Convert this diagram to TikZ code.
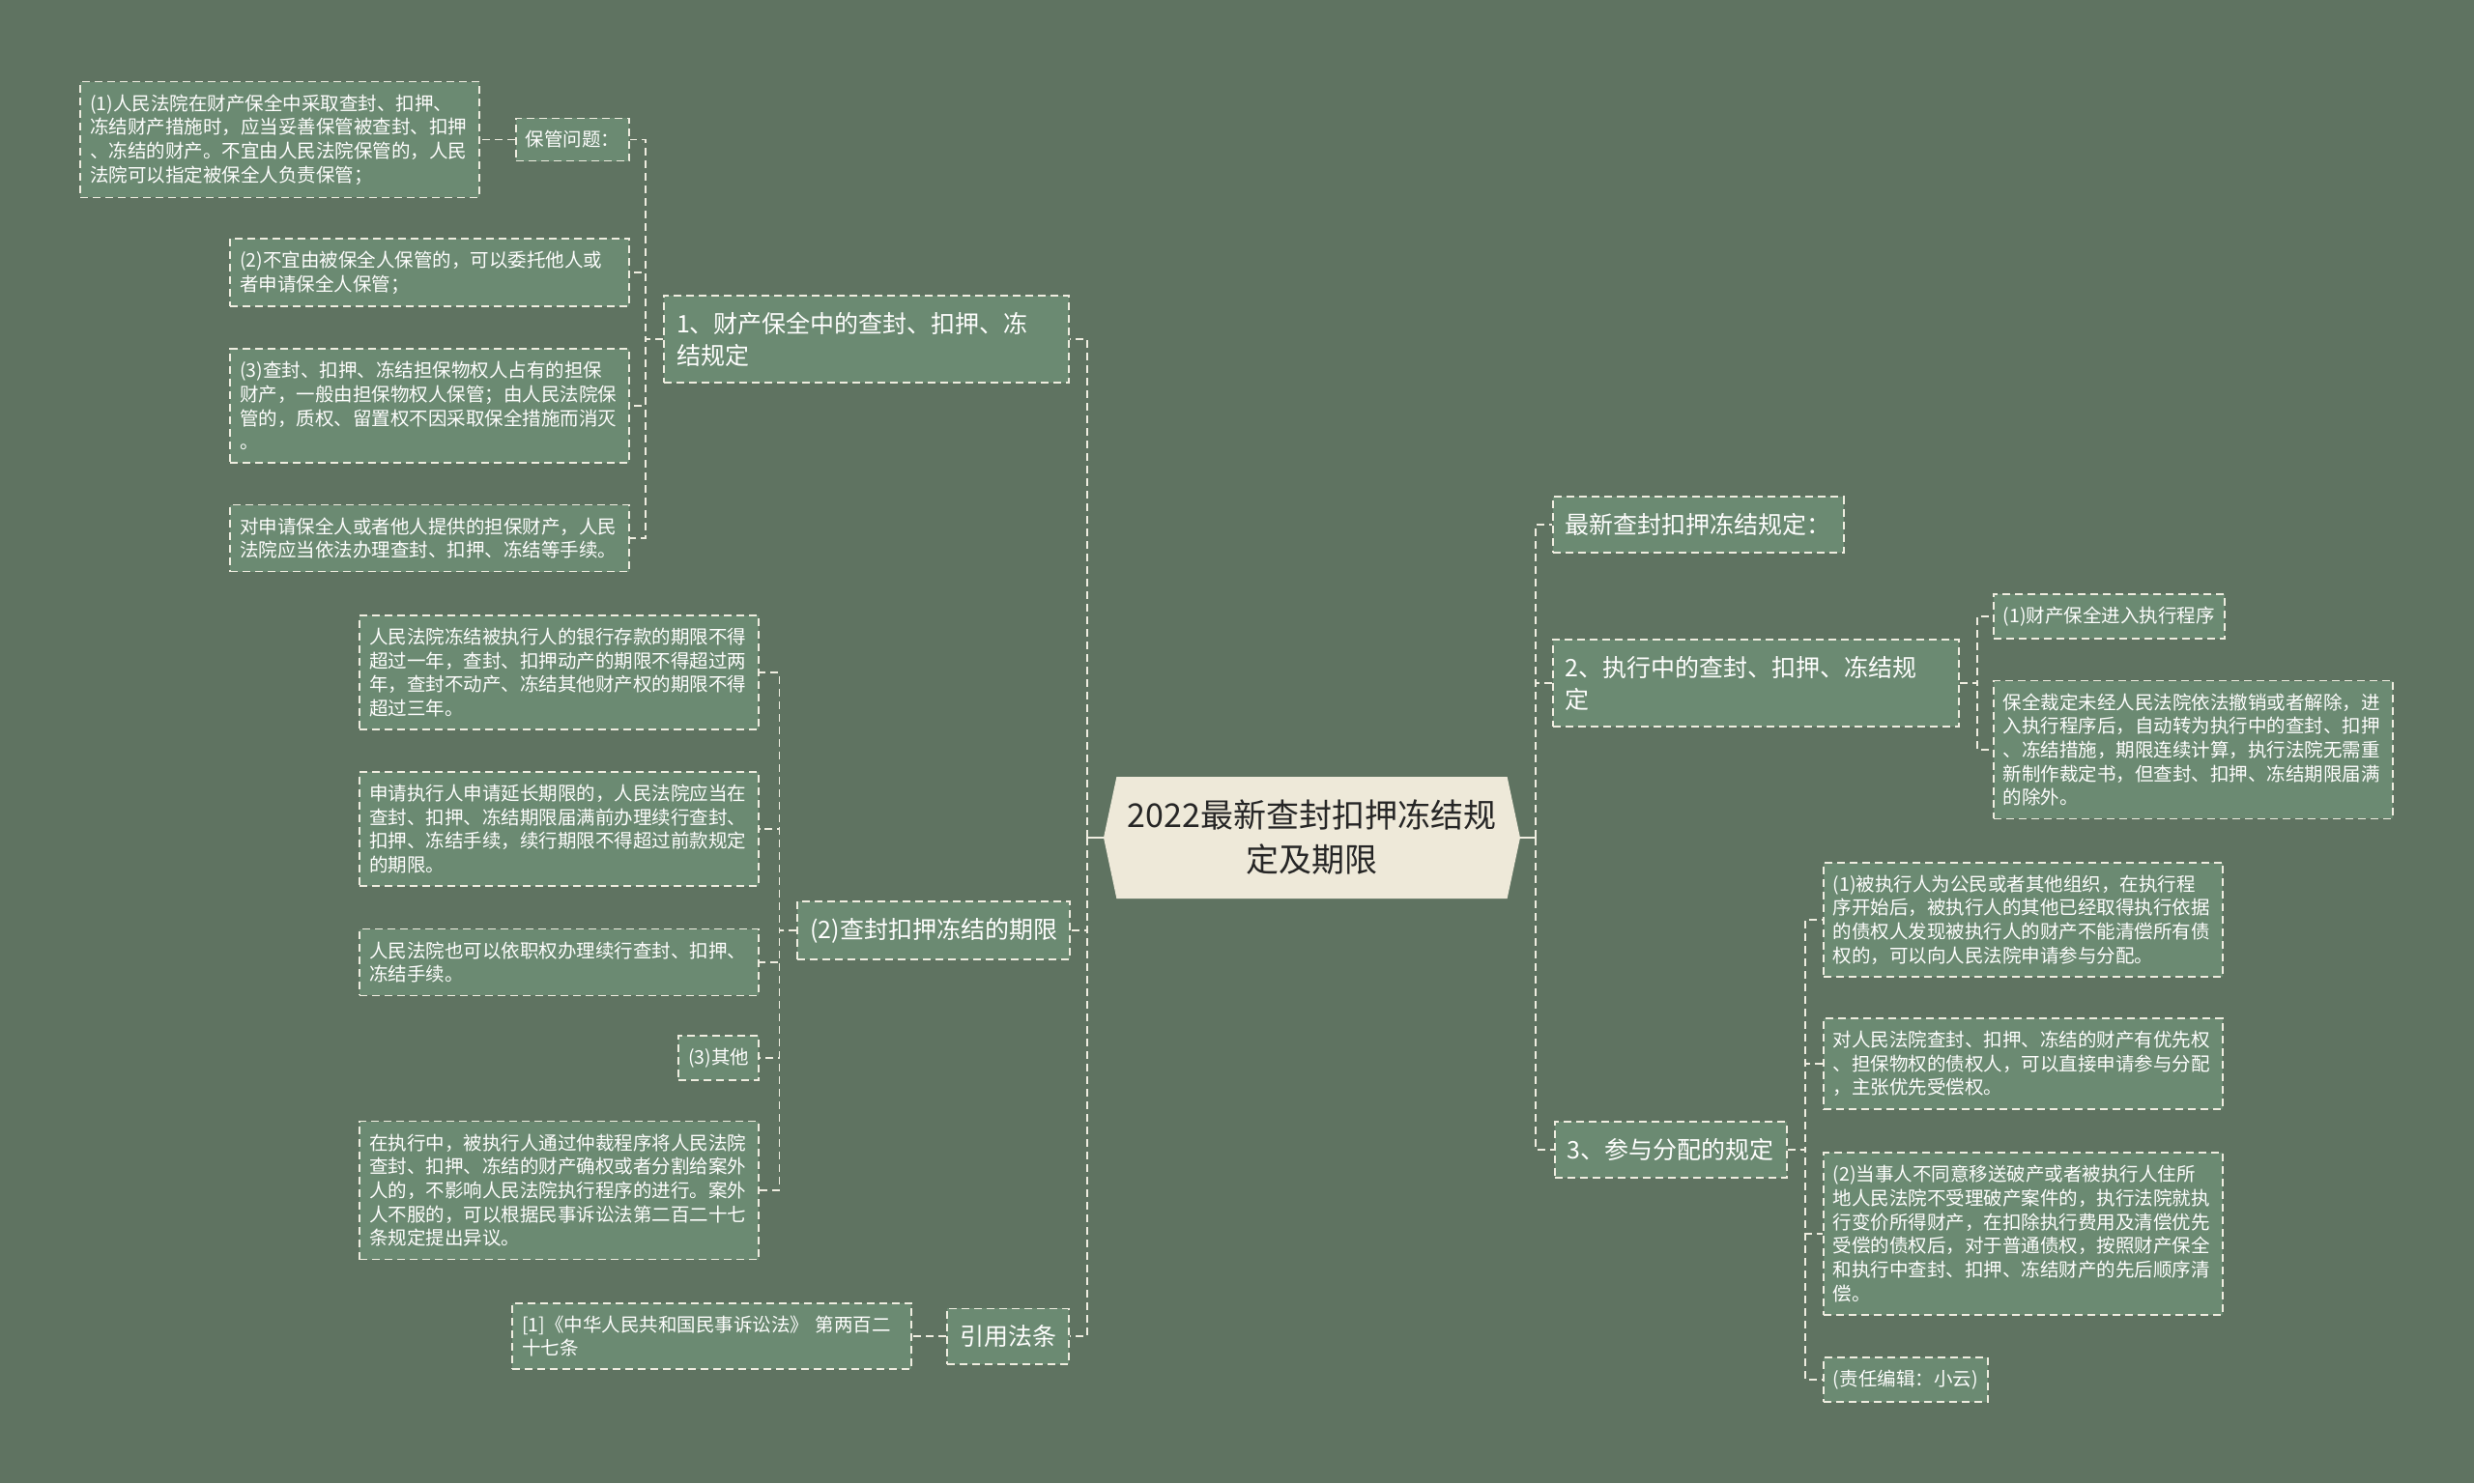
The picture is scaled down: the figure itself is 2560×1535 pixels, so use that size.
\documentclass[tikz,border=0pt]{standalone}
\usepackage{fontspec}
\setmainfont{Noto Sans CJK SC}
\usetikzlibrary{shapes.symbols}
\definecolor{bgc}{HTML}{5F7361}
\definecolor{boxc}{HTML}{6B8A72}
\definecolor{rootc}{HTML}{EEE9D9}
\definecolor{linec}{HTML}{EFEDE0}
\begin{document}
\begin{tikzpicture}[x=1pt, y=-1pt, root/.style={signal, signal to=west and east, signal pointer angle=156, fill=rootc, minimum width=431pt, minimum height=126pt, inner sep=0pt, align=center, text=black!85, font=\fontsize{34pt}{46pt}\selectfont}, box/.style={draw=linec, line width=1.8pt, dash pattern=on 8pt off 5pt, fill=boxc, text=white!94!rootc, align=left}, topic/.style={box, inner xsep=13pt, inner ysep=17pt, font=\fontsize{25pt}{33pt}\selectfont}, leaf/.style={box, inner xsep=10pt, inner ysep=13pt, font=\fontsize{19.5pt}{24.7pt}\selectfont}, para/.style={leaf, text width=393pt}, link/.style={draw=linec, line width=1.8pt, dash pattern=on 8pt off 5pt}, stub/.style={draw=linec, line width=1.8pt}]

\fill[bgc] (0,0) rectangle (2560,1535); \useasboundingbox (0,0) rectangle (2560,1535);
\node[root] (c) at (1357.5,867) {2022最新查封扣押冻结规\\定及期限};

% left: 1、
\node[topic, text width=393pt, anchor=east] (n1) at (1107,351) {1、财产保全中的查封、扣押、冻\\结规定};
\node[leaf, anchor=east] (keep) at (652,144.5) {保管问题：};
\node[para, anchor=east] (keep1) at (497,144.5) {(1)人民法院在财产保全中采取查封、扣押、\\冻结财产措施时，应当妥善保管被查封、扣押\\、冻结的财产。不宜由人民法院保管的，人民\\法院可以指定被保全人负责保管；};
\node[para, anchor=east] (n1b) at (652,282) {(2)不宜由被保全人保管的，可以委托他人或\\者申请保全人保管；};
\node[para, anchor=east] (n1c) at (652,420) {(3)查封、扣押、冻结担保物权人占有的担保\\财产，一般由担保物权人保管；由人民法院保\\管的，质权、留置权不因采取保全措施而消灭\\。};
\node[para, anchor=east] (n1d) at (652,557) {对申请保全人或者他人提供的担保财产，人民\\法院应当依法办理查封、扣押、冻结等手续。};

% left: (2) and law
\node[topic, anchor=east] (n2) at (1108,963) {(2)查封扣押冻结的期限};
\node[para, anchor=east] (n2a) at (786,696) {人民法院冻结被执行人的银行存款的期限不得\\超过一年，查封、扣押动产的期限不得超过两\\年，查封不动产、冻结其他财产权的期限不得\\超过三年。};
\node[para, anchor=east] (n2b) at (786,858) {申请执行人申请延长期限的，人民法院应当在\\查封、扣押、冻结期限届满前办理续行查封、\\扣押、冻结手续，续行期限不得超过前款规定\\的期限。};
\node[para, anchor=east] (n2c) at (786,996) {人民法院也可以依职权办理续行查封、扣押、\\冻结手续。};
\node[leaf, anchor=east] (n2d) at (786,1095) {(3)其他};
\node[para, anchor=east] (n2e) at (786,1232) {在执行中，被执行人通过仲裁程序将人民法院\\查封、扣押、冻结的财产确权或者分割给案外\\人的，不影响人民法院执行程序的进行。案外\\人不服的，可以根据民事诉讼法第二百二十七\\条规定提出异议。};
\node[topic, anchor=east] (law) at (1107,1383) {引用法条};
\node[para, anchor=east] (law1) at (944,1383) {[1]《中华人民共和国民事诉讼法》 第两百二\\十七条};

% right
\node[topic, anchor=west] (r0) at (1606,543) {最新查封扣押冻结规定：};
\node[topic, text width=394pt, anchor=west] (r2) at (1606,707) {2、执行中的查封、扣押、冻结规\\定};
\node[leaf, anchor=west] (r2a) at (2062,638) {(1)财产保全进入执行程序};
\node[para, anchor=west] (r2b) at (2062,776) {保全裁定未经人民法院依法撤销或者解除，进\\入执行程序后，自动转为执行中的查封、扣押\\、冻结措施，期限连续计算，执行法院无需重\\新制作裁定书，但查封、扣押、冻结期限届满\\的除外。};
\node[topic, anchor=west] (r3) at (1608,1190) {3、参与分配的规定};
\node[para, anchor=west] (r3a) at (1886,952) {(1)被执行人为公民或者其他组织，在执行程\\序开始后，被执行人的其他已经取得执行依据\\的债权人发现被执行人的财产不能清偿所有债\\权的，可以向人民法院申请参与分配。};
\node[para, anchor=west] (r3b) at (1886,1101) {对人民法院查封、扣押、冻结的财产有优先权\\、担保物权的债权人，可以直接申请参与分配\\，主张优先受偿权。};
\node[para, anchor=west] (r3c) at (1886,1277) {(2)当事人不同意移送破产或者被执行人住所\\地人民法院不受理破产案件的，执行法院就执\\行变价所得财产，在扣除执行费用及清偿优先\\受偿的债权后，对于普通债权，按照财产保全\\和执行中查封、扣押、冻结财产的先后顺序清\\偿。};
\node[leaf, anchor=west] (r3d) at (1886,1428) {(责任编辑：小云)};

% connectors
\draw[stub] (c.west) -- ++(-17,0); \draw[stub] (c.east) -- ++(16,0);
\foreach \k in {n1,n2,law} \draw[link] ([xshift=-17pt]c.west) |- (\k.east);
\foreach \k in {r0,r2,r3} \draw[link] ([xshift=16pt]c.east) |- (\k.west);
\foreach \k in {keep,n1b,n1c,n1d} \draw[link] (n1.west) -- ++(-18,0) |- (\k.east);
\foreach \k in {n2a,n2b,n2c,n2d,n2e} \draw[link] (n2.west) -- ++(-18,0) |- (\k.east);
\foreach \k in {r2a,r2b} \draw[link] (r2.east) -- ++(18,0) |- (\k.west);
\foreach \k in {r3a,r3b,r3c,r3d} \draw[link] (r3.east) -- ++(18,0) |- (\k.west);
\draw[link] (keep.west) -- (keep1.east); \draw[link] (law.west) -- (law1.east);
\end{tikzpicture}
\end{document}
